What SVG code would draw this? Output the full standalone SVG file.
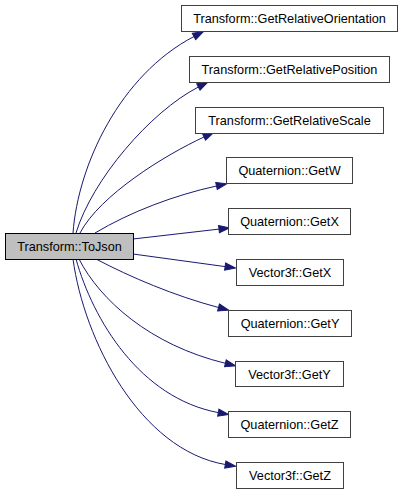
<svg xmlns="http://www.w3.org/2000/svg" width="403" height="493" viewBox="0 0 403 493">
<style>
.node rect{fill:#ffffff;stroke:#404040;stroke-width:1}
.node.root rect{fill:#bfbfbf;stroke:#000000}
.node text{font-family:"Liberation Sans",Arial,sans-serif;font-size:12.7px;fill:#000000;text-anchor:middle}
.edges path{fill:none;stroke:#191970;stroke-width:1;marker-end:url(#arr)}
</style>
<defs>
<marker id="arr" markerUnits="userSpaceOnUse" markerWidth="12" markerHeight="10" viewBox="0 -5 12 10" refX="0" refY="0" orient="auto" overflow="visible">
<path d="M0,-3.6 L10.5,0 L0,3.6 z" fill="#191970" stroke="#191970" stroke-width="1"/>
</marker>
</defs>
<rect width="403" height="493" fill="#ffffff"/>
<g class="edges" id="edges">
<path d="M73,233 C78,165 120,75 194,36.5"/>
<path d="M76,233 C92,180 150,112 198.4,87"/>
<path d="M80,233 C100,195 165,155 204,137"/>
<path d="M95,233 C130,212 175,195 216.5,186"/>
<path d="M133,239 L219,229.1"/>
<path d="M133,254 L225.1,266.6"/>
<path d="M96,259 C130,277 175,296 218.5,307.5"/>
<path d="M79,259 C100,300 150,345 225.4,363.3"/>
<path d="M76,259 C93,320 140,398 218.3,412.6"/>
<path d="M73,259 C84,340 140,450 225.3,464.5"/>
</g>
<g class="node root" id="n_tojson"><rect x="5.5" y="233.5" width="128" height="26"/><text x="69.5" y="250.5">Transform::ToJson</text></g>
<g class="node" id="n_orient"><rect x="181.5" y="5.5" width="216" height="26"/><text x="289.5" y="22.5">Transform::GetRelativeOrientation</text></g>
<g class="node" id="n_pos"><rect x="189.5" y="56.5" width="200" height="26"/><text x="289.5" y="73.5">Transform::GetRelativePosition</text></g>
<g class="node" id="n_scale"><rect x="195.5" y="107.5" width="188" height="26"/><text x="289.5" y="124.5">Transform::GetRelativeScale</text></g>
<g class="node" id="n_qw"><rect x="226.5" y="157.5" width="126" height="26"/><text x="289.5" y="174.5">Quaternion::GetW</text></g>
<g class="node" id="n_qx"><rect x="228.5" y="208.5" width="122" height="26"/><text x="289.5" y="225.5">Quaternion::GetX</text></g>
<g class="node" id="n_vx"><rect x="236.5" y="259.5" width="107" height="26"/><text x="290" y="276.5">Vector3f::GetX</text></g>
<g class="node" id="n_qy"><rect x="228.5" y="310.5" width="123" height="26"/><text x="290" y="327.5">Quaternion::GetY</text></g>
<g class="node" id="n_vy"><rect x="235.5" y="361.5" width="108" height="25"/><text x="289.5" y="378.5">Vector3f::GetY</text></g>
<g class="node" id="n_qz"><rect x="228.5" y="411.5" width="122" height="26"/><text x="289.5" y="428.5">Quaternion::GetZ</text></g>
<g class="node" id="n_vz"><rect x="236.5" y="462.5" width="107" height="26"/><text x="290" y="479.5">Vector3f::GetZ</text></g>
</svg>
